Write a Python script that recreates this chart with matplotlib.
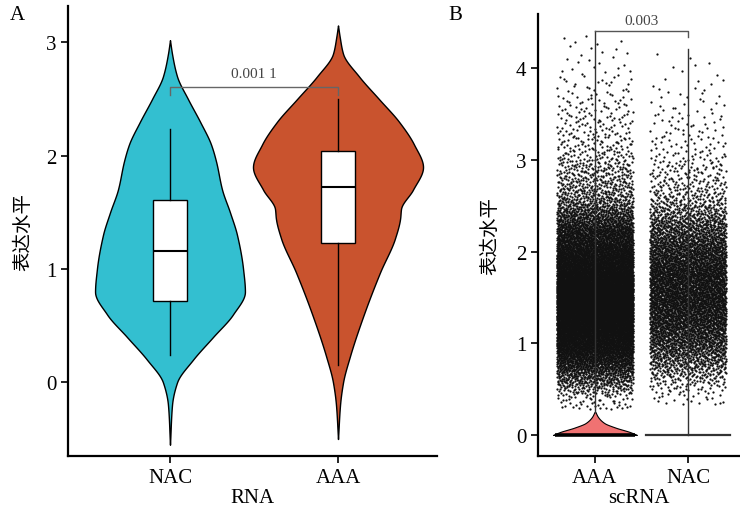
import numpy as np
import matplotlib
matplotlib.use("Agg")
import matplotlib.pyplot as plt

plt.rcParams['font.family'] = ['Liberation Serif', 'Noto Sans CJK SC']

# ---------------- 数据 ----------------
# A: bulk RNA
groups_a = ["NAC", "AAA"]
colors_a = ["#33BFD0", "#C9532E"]
# violin outline: y levels and half widths (category units)
nac_vy = [-0.55, -0.2, 0.0, 0.2, 0.4, 0.6, 0.8, 1.0, 1.3, 1.5, 1.7, 1.95, 2.1, 2.3, 2.5, 2.7, 2.9, 3.02]
nac_vw = [0.0, 0.012, 0.042, 0.137, 0.256, 0.375, 0.446, 0.435, 0.399, 0.357, 0.31, 0.274, 0.244, 0.179, 0.107, 0.042, 0.012, 0.0]
aaa_vy = [-0.5, -0.2, 0.0, 0.23, 0.58, 0.97, 1.27, 1.45, 1.53, 1.7, 1.9, 2.1, 2.3, 2.5, 2.7, 2.9, 3.05, 3.15]
aaa_vw = [0.0, 0.012, 0.03, 0.071, 0.149, 0.25, 0.339, 0.37, 0.375, 0.446, 0.506, 0.452, 0.363, 0.244, 0.125, 0.03, 0.01, 0.0]
# box stats: whislo, q1, med, q3, whishi
nac_box = [0.24, 0.72, 1.16, 1.61, 2.24]
aaa_box = [0.15, 1.23, 1.72, 2.04, 2.50]
p_a = "0.001 1"

# B: scRNA
groups_b = ["AAA", "NAC"]
# quantiles of non-zero expression (probability -> value)
q_prob = [0.0, 0.005, 0.02, 0.06, 0.15, 0.3, 0.5, 0.7, 0.85, 0.93, 0.975, 0.992, 0.998, 1.0]
aaa_q = [0.28, 0.45, 0.60, 0.78, 1.00, 1.25, 1.52, 1.82, 2.15, 2.45, 2.95, 3.50, 3.95, 4.38]
nac_q = [0.33, 0.48, 0.64, 0.82, 1.05, 1.32, 1.62, 1.92, 2.22, 2.50, 2.95, 3.45, 3.85, 4.20]
n_nonzero = [12000, 5500]
aaa_sc_vy = [0.0, 0.03, 0.08, 0.13, 0.2, 0.25]
aaa_sc_vw = [0.45, 0.38, 0.22, 0.10, 0.03, 0.005]
tail_top = [4.40, 4.21]
p_b = "0.003"


def pchip(x, y, xn):
    # monotone cubic (Fritsch-Carlson)
    x = np.asarray(x, float)
    y = np.asarray(y, float)
    h = np.diff(x)
    d = np.diff(y) / h
    m = np.zeros_like(y)
    for k in range(1, len(y) - 1):
        if d[k - 1] * d[k] > 0:
            w1 = 2 * h[k] + h[k - 1]
            w2 = h[k] + 2 * h[k - 1]
            m[k] = (w1 + w2) / (w1 / d[k - 1] + w2 / d[k])
    m[0] = d[0] if len(d) else 0
    m[-1] = d[-1]
    xn = np.asarray(xn, float)
    i = np.clip(np.searchsorted(x, xn) - 1, 0, len(h) - 1)
    t = (xn - x[i]) / h[i]
    h00 = 2 * t ** 3 - 3 * t ** 2 + 1
    h10 = t ** 3 - 2 * t ** 2 + t
    h01 = -2 * t ** 3 + 3 * t ** 2
    h11 = t ** 3 - t ** 2
    return h00 * y[i] + h10 * h[i] * m[i] + h01 * y[i + 1] + h11 * h[i] * m[i + 1]


def profile(vy, vw, n=500):
    yy = np.linspace(vy[0], vy[-1], n)
    ww = np.clip(pchip(vy, vw, yy), 0, None)
    return yy, ww


def halton(n, base):
    out = np.zeros(n)
    for j in range(n):
        f, r, k = 1.0, 0.0, j + 1
        while k > 0:
            f /= base
            r += f * (k % base)
            k //= base
        out[j] = r
    return out


fig = plt.figure(figsize=(7.4, 5.1), dpi=100)
ax1 = fig.add_axes([0.0919, 0.1039, 0.4986, 0.882])
ax2 = fig.add_axes([0.727, 0.1039, 0.273, 0.8667])

# ---------------- A ----------------
for i, (vy, vw, col) in enumerate([(nac_vy, nac_vw, colors_a[0]), (aaa_vy, aaa_vw, colors_a[1])]):
    yy, ww = profile(vy, vw)
    ax1.fill_betweenx(yy, i - ww, i + ww, facecolor=col, edgecolor="black", linewidth=1.0, zorder=1)

stats = []
for b in [nac_box, aaa_box]:
    stats.append(dict(whislo=b[0], q1=b[1], med=b[2], q3=b[3], whishi=b[4], fliers=[]))
ax1.bxp(stats, positions=[0, 1], widths=0.2, showcaps=False, patch_artist=True,
        boxprops=dict(facecolor="white", edgecolor="black", linewidth=1.0),
        medianprops=dict(color="black", linewidth=1.5),
        whiskerprops=dict(color="black", linewidth=1.0), manage_ticks=False, zorder=3)

ax1.plot([0, 0, 1, 1], [2.54, 2.61, 2.61, 2.54], color="#666666", lw=1.0, zorder=4)
ax1.text(0.5, 2.67, p_a, ha="center", va="bottom", fontsize=11, color="#444444")

ax1.set_xlim(-0.607, 1.589)
ax1.set_ylim(-0.65, 3.32)
ax1.set_xticks([0, 1])
ax1.set_xticklabels(groups_a)
ax1.set_yticks([0, 1, 2, 3])
ax1.set_xlabel("RNA", fontsize=15, labelpad=1)
ax1.set_ylabel("表达水平", fontsize=14, labelpad=10)

# ---------------- B ----------------
for i, (q, n) in enumerate(zip([aaa_q, nac_q], n_nonzero)):
    p = halton(n, 2)
    xj = halton(n, 3)
    yv = pchip(q_prob, q, p)
    ax2.scatter(i + (xj - 0.5) * 0.82, yv, s=2.6, color="#111111", linewidths=0, zorder=1)

yy, ww = profile(aaa_sc_vy, aaa_sc_vw, n=200)
ax2.fill_betweenx(yy, 0 - ww, 0 + ww, facecolor="#F07272", edgecolor="black", linewidth=0.8, zorder=2)
ax2.plot([-0.43, 0.43], [0, 0], color="black", lw=2.6, zorder=3, solid_capstyle="butt")
ax2.plot([0, 0], [aaa_sc_vy[-1], tail_top[0]], color="#333333", lw=1.0, zorder=3)
ax2.plot([1 - 0.45, 1 + 0.45], [0, 0], color="#333333", lw=1.6, zorder=3)
ax2.plot([1, 1], [0, tail_top[1]], color="#333333", lw=1.0, zorder=3)

ax2.plot([0, 1, 1], [tail_top[0], tail_top[0], 4.34], color="#555555", lw=1.0, zorder=4)
ax2.text(0.5, 4.45, p_b, ha="center", va="bottom", fontsize=11, color="#444444")

ax2.set_xlim(-0.613, 1.56)
ax2.set_ylim(-0.23, 4.59)
ax2.set_xticks([0, 1])
ax2.set_xticklabels(groups_b)
ax2.set_yticks([0, 1, 2, 3, 4])
ax2.set_xlabel("scRNA", fontsize=15, labelpad=1)
ax2.set_ylabel("表达水平", fontsize=14, labelpad=12)

for ax in [ax1, ax2]:
    ax.spines["top"].set_visible(False)
    ax.spines["right"].set_visible(False)
    for s in ["left", "bottom"]:
        ax.spines[s].set_linewidth(1.6)
    ax.tick_params(direction="out", length=5, width=1.2, labelsize=15, colors="black")

fig.text(10 / 740, 1 - 16 / 510, "A", fontsize=15, va="center", ha="left")
fig.text(448 / 740, 1 - 16 / 510, "B", fontsize=15, va="center", ha="left")

plt.savefig("out.png", dpi=100)
plt.close()
